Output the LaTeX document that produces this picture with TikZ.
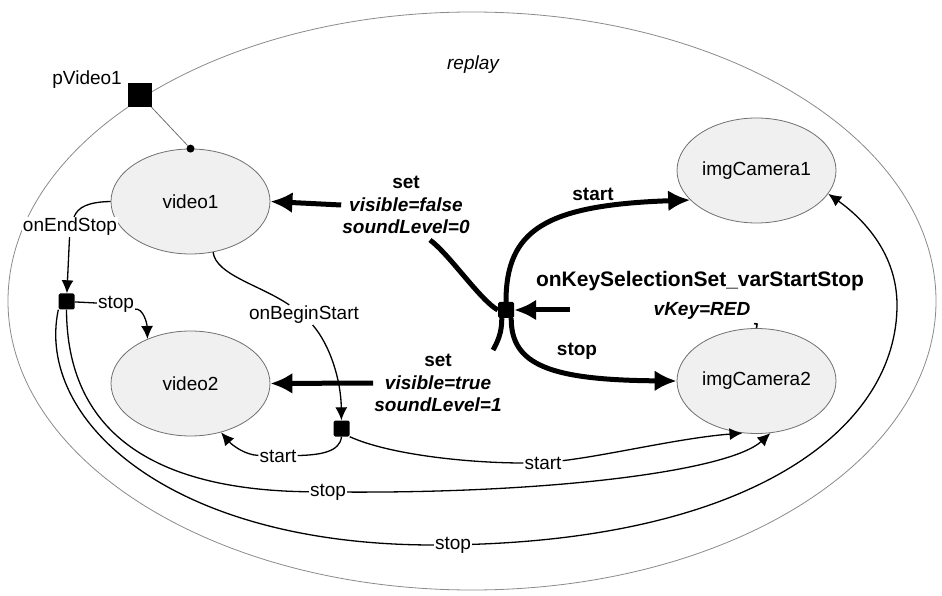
\documentclass[tikz,border=0pt]{standalone}
\usepackage{fontspec}
\setmainfont{Liberation Sans}
\usepackage{xcolor}
\usepackage{tikz}
\usetikzlibrary{arrows.meta,shapes.geometric}
\definecolor{RPFill}{HTML}{F0F0F0}
\definecolor{RPLine}{HTML}{707070}
\definecolor{RPFrame}{HTML}{8A8A8A}

\begin{document}
\begin{tikzpicture}[x=1pt,y=1pt,font=\fontsize{19}{22.5}\selectfont,
  media/.style={ellipse,draw=RPLine,line width=0.8pt,fill=RPFill,minimum width=159pt,minimum height=105pt,inner sep=0pt},
  port/.style={fill=black,rounded corners=1.5pt,minimum size=16pt,inner sep=0pt},
  conn/.style={line width=1.3pt},
  thinarr/.style={conn,-{Latex[length=13pt,width=12pt]}},
  boldline/.style={line width=5pt},
  boldarr/.style={boldline,-{Latex[length=22pt,width=21pt]}},
  lbl/.style={fill=white,inner sep=1pt},
  blbl/.style={inner sep=1pt,align=center,font=\fontsize{19}{22.5}\selectfont\bfseries}]
\path[use as bounding box] (0,0) rectangle (942,595);
\draw[RPFrame,line width=0.8pt] (472,294) ellipse [x radius=464pt,y radius=289pt];
\node (replayLbl) at (473,530) {\itshape replay};

\node[media] (video1) at (190.5,393.5) {video1};
\node[media] (video2) at (190.5,211.5) {video2};
\node[media] (imgCamera1) at (756.5,424.5) {imgCamera1};
\node[media] (imgCamera2) at (756.5,214) {imgCamera2};

\node[port,minimum size=24pt,rounded corners=0pt] (pVideo1) at (140,500) {};
\node[anchor=east,inner sep=0pt] (pVideo1Lbl) at (122,515) {pVideo1};
\node[circle,fill=black,minimum size=8pt,inner sep=0pt] (dot) at (video1.north) {};
\draw[RPLine,line width=0.8pt] (pVideo1) -- (dot);

\node[port] (J) at (506,285) {};
\node[port] (j1) at (66.5,293.5) {};
\node[port] (j2) at (341.5,166.5) {};

\node[blbl] (setA) at (406,390) {set\\\textit{visible=false}\\\textit{soundLevel=0}};
\node[blbl] (setB) at (438,212) {set\\\textit{visible=true}\\\textit{soundLevel=1}};
\node[blbl] (startLbl) at (593,401) {start};
\node[blbl] (stopLbl) at (577,244) {stop};
\node[blbl,font=\fontsize{21}{24}\selectfont\bfseries] (keyLbl) at (700,314) {onKeySelectionSet\_varStartStop};
\node[blbl] (vKeyLbl) at (702,284) {\itshape vKey=RED};

\node[lbl] (lEnd) at (70,368) {onEndStop};
\node[lbl] (lStopA) at (116,291) {stop};
\node[lbl] (lBegin) at (304,280) {onBeginStart};
\node[lbl] (lStartA) at (278,139) {start};
\node[lbl] (lStartB) at (543,132) {start};
\node[lbl] (lStopB) at (328,103) {stop};
\node[lbl] (lStopC) at (453,50) {stop};

\coordinate (endB) at (493,245);
\coordinate (keyIn) at (570,285);

\draw[boldarr] (J.north) .. controls (506,365) and (545,390) .. (imgCamera1.204);
\draw[boldarr] ([xshift=-3pt]J.south east) .. controls (511,230) and (550,215) .. (imgCamera2.west);
\draw[boldline] ([xshift=24pt,yshift=-5pt]setA.south) .. controls (450,340) and (480,295) .. (J.west);
\draw[boldarr] (setA.west) -- (video1.east);
\draw[boldline] ([xshift=4pt]J.south west) .. controls (502,262) and (497,252) .. (endB);
\draw[boldarr] (setB.west) -- (video2.east);
\draw[boldarr] (keyIn) -- (J.east);
\draw[line width=1.6pt] ([shift={(-2.5pt,4.5pt)}]imgCamera2.north) -- ([shift={(0.5pt,4pt)}]imgCamera2.north) -- (imgCamera2.north);

\draw[conn] (video1.west) .. controls (88,393) and (78,388) .. (lEnd);
\draw[thinarr] (lEnd) -- (j1);
\draw[conn] (j1) -- (lStopA);
\draw[thinarr] (lStopA.-15) .. controls (143,287) and (147,272) .. (video2.134);
\draw[conn] (video1.-66) .. controls (216,320) and (260,310) .. (lBegin);
\draw[thinarr] (lBegin) .. controls (330,250) and (341,215) .. (j2);
\draw[conn] (j2.south) .. controls (340,143) and (320,140) .. (lStartA);
\draw[thinarr] (lStartA) .. controls (245,140) and (232,150) .. (video2.-58);
\draw[conn] (j2.south east) .. controls (390,140) and (470,132) .. (lStartB);
\draw[thinarr] (lStartB) .. controls (610,140) and (680,157) .. (imgCamera2.-105);
\draw[conn] (j1.south) .. controls (67,165) and (150,105) .. (lStopB);
\draw[thinarr] (lStopB) .. controls (560,102) and (730,125) .. (imgCamera2.-75);
\draw[conn] (j1.south west) .. controls (35,175) and (170,50) .. (lStopC);
\draw[thinarr] (lStopC) .. controls (760,60) and (897,170) .. (897,290) .. controls (897,340) and (865,375) .. (imgCamera1.-18);
\end{tikzpicture}
\end{document}
